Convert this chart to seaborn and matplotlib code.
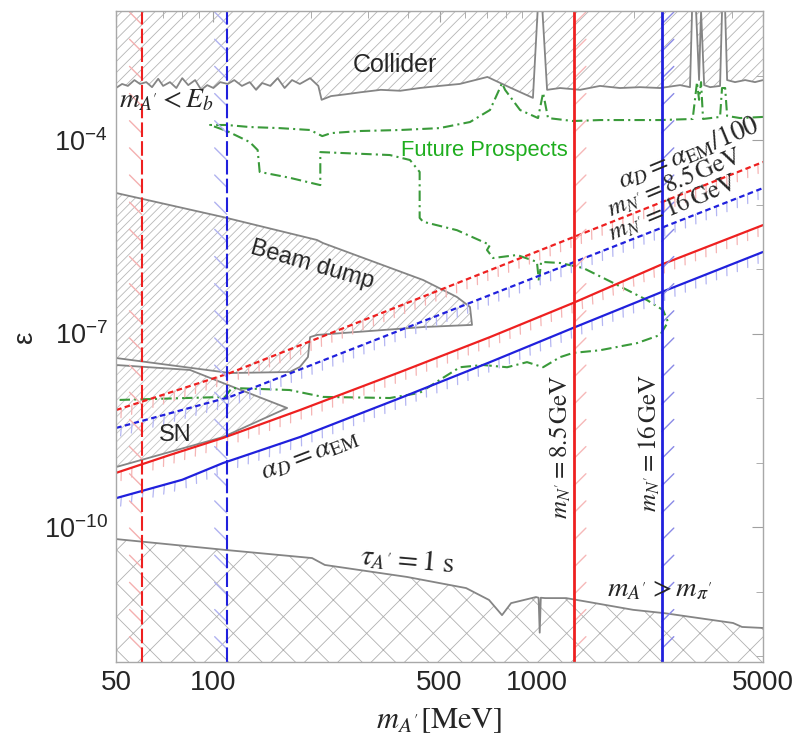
import matplotlib
matplotlib.use("Agg")
import matplotlib.pyplot as plt
import matplotlib.patheffects as pe
import seaborn as sns

# ---- data (masses in MeV, epsilon dimensionless) ----
collider_mass = [50, 52.2, 54.4, 57.0, 59.3, 62.0, 64.6, 67.5, 69.9, 73.4, 76.8, 80.1, 83.6,
                 87.8, 91.7, 95.7, 100, 104.9, 110.8, 116, 122.5, 129.5, 135.5, 141.5, 150,
                 158, 166, 175, 185, 199, 211, 216, 231, 255, 285, 329, 378, 434, 500, 577,
                 644, 703, 832, 972, 1005, 1040, 1075, 1179, 1359, 1567, 1806, 2084, 2403,
                 2770, 2973, 3017, 3104, 3171, 3216, 3288, 3431, 3682, 3734, 3818, 3872,
                 4096, 4402, 4721, 5000]
collider_eps = [6.4e-4, 7.4e-4, 6.9e-4, 8.5e-4, 7.4e-4, 7.9e-4, 6.6e-4, 8.9e-4, 6.9e-4, 7.9e-4,
                6.4e-4, 9.1e-4, 7.1e-4, 8.5e-4, 6.0e-4, 7.1e-4, 6.4e-4, 7.9e-4, 7.4e-4, 8.5e-4,
                6.9e-4, 7.9e-4, 6.0e-4, 7.65e-4, 6.9e-4, 9.1e-4, 6.4e-4, 8.5e-4, 7.4e-4, 9.1e-4,
                6.9e-4, 4.2e-4, 4.8e-4, 5.1e-4, 5.5e-4, 6.0e-4, 5.8e-4, 6.4e-4, 6.9e-4, 7.4e-4,
                8.5e-4, 9.5e-4, 6.4e-4, 4.5e-4, 1e-2, 1e-2, 6.0e-4, 6.4e-4, 6.0e-4, 6.9e-4,
                6.4e-4, 6.6e-4, 6.4e-4, 7.1e-4, 6.6e-4, 1e-2, 1e-2, 8.5e-4, 1e-2, 7.1e-4,
                6.6e-4, 6.9e-4, 1e-2, 1e-2, 8.5e-4, 7.9e-4, 8.5e-4, 7.9e-4, 8.5e-4]

future_mass = [5000, 4245, 3872, 3818, 3734, 3682, 3262, 3216, 3171, 3125, 3030, 2403, 1567,
               1293, 1082, 1045, 1008, 887, 797, 780, 764, 716, 621, 500, 378, 285, 231, 217,
               199, 160, 129.5, 110, 97.6,
               110, 129.5, 137, 139, 172, 214, 214, 351, 405, 434, 434, 445, 566, 716, 701,
               732, 868, 1000, 1015, 1030, 1179, 1388, 1720, 2189, 2454, 2542, 2403, 2039,
               1567, 1293, 1179, 1045, 932, 809, 681, 578, 500, 434, 351, 218, 172, 114,
               108.6, 50]
future_eps = [2.28e-4, 2.19e-4, 2.36e-4, 6.4e-4, 6.4e-4, 2.28e-4, 2.12e-4, 7.9e-4, 4.2e-4,
              7.9e-4, 2.12e-4, 2.04e-4, 2.04e-4, 1.97e-4, 2.19e-4, 5.4e-4, 2.19e-4, 2.92e-4,
              6.0e-4, 7.65e-4, 6.0e-4, 2.92e-4, 1.90e-4, 1.53e-4, 1.43e-4, 1.38e-4, 1.28e-4,
              1.15e-4, 1.43e-4, 1.53e-4, 1.59e-4, 1.71e-4, 1.71e-4,
              1.38e-4, 9.3e-5, 7.0e-5, 3.2e-5, 2.6e-5, 2.0e-5, 6.5e-5, 5.85e-5, 4.9e-5,
              3.2e-5, 6.2e-6, 5.4e-6, 4.0e-6, 2.36e-6, 1.97e-6, 1.48e-6, 1.65e-6, 1.29e-6,
              6.3e-7, 1.29e-6, 1.24e-6, 1.04e-6, 6.1e-7, 3.3e-7, 2.31e-7, 1.51e-7, 9.5e-8,
              7.1e-8, 5.5e-8, 5.0e-8, 4.3e-8, 3.0e-8, 3.6e-8, 3.0e-8, 3.25e-8, 3.0e-8,
              1.9e-8, 1.2e-8, 1.0e-8, 1.04e-8, 1.33e-8, 1.43e-8, 1.04e-8, 9.3e-9]

beamdump_mass = [50, 107, 209, 218, 445, 566, 621, 630, 445, 209, 199, 196, 185, 172, 112.5, 50]
beamdump_eps = [1.51e-5, 6.4e-6, 2.82e-6, 2.53e-6, 6.75e-7, 3.68e-7, 2.58e-7, 1.36e-7, 1.26e-7,
                9.5e-8, 8.8e-8, 4.32e-8, 3.03e-8, 2.53e-8, 2.44e-8, 4.17e-8]

sn_mass = [50, 84.7, 107, 169, 107, 50]
sn_eps = [3.25e-8, 2.72e-8, 1.71e-8, 7.0e-9, 2.48e-9, 8.5e-10]

tau_mass = [50, 109.4, 201.8, 221, 397, 604, 711, 780, 832, 993, 1012, 1020, 1028, 1060,
            1231, 1439, 1982, 2490, 4039, 4305, 5000]
tau_eps = [6.5e-11, 4.4e-11, 3.3e-11, 2.58e-11, 1.68e-11, 1.13e-11, 7.4e-12, 4.3e-12, 6.6e-12,
           8.2e-12, 8.0e-12, 2.3e-12, 8.0e-12, 7.9e-12, 7.9e-12, 6.9e-12, 5.2e-12, 4.6e-12,
           3.25e-12, 2.82e-12, 2.72e-12]

# alpha_D = alpha_EM lines (solid) and alpha_D = alpha_EM/100 lines (dotted)
red_solid_mass = [50, 73.4, 107, 185, 378, 716, 1293, 2403, 5000]
red_solid_eps = [6.9e-10, 1.31e-9, 2.4e-9, 6.5e-9, 2.53e-8, 8.8e-8, 2.97e-7, 1.15e-6, 4.8e-6]
blue_solid_mass = [50, 80.1, 107, 185, 378, 716, 1293, 2430, 5000]
blue_solid_eps = [2.8e-10, 5.4e-10, 9.8e-10, 2.48e-9, 1.0e-8, 3.6e-8, 1.22e-7, 4.4e-7, 1.84e-6]
red_dot_mass = [50, 112.5, 716, 5000]
red_dot_eps = [6.5e-9, 2.44e-8, 9.6e-7, 4.56e-5]
blue_dot_mass = [50, 112.5, 716, 5000]
blue_dot_eps = [3.43e-9, 1.04e-8, 3.95e-7, 1.8e-5]

beam_energy_cuts = [60, 110]        # m_A' < E_b (red, blue)
pion_mass_cuts = [1300, 2430]       # m_N' = 8.5 GeV, 16 GeV

x_major = [50, 100, 500, 1000, 5000]
x_minor = [60, 70, 80, 90, 200, 300, 400, 600, 700, 800, 900, 2000, 3000, 4000]
y_major = [1e-10, 1e-7, 1e-4]
y_minor = [1e-12, 1e-11, 1e-9, 1e-8, 1e-6, 1e-5, 1e-3, 1e-2]

RED = "#ee2020"
BLUE = "#2020dd"
GREEN = "#3a9a3a"
GRAY = "#858585"

sns.set_theme(style="white")
plt.rcParams["font.family"] = ["Liberation Sans", "DejaVu Sans"]
plt.rcParams["hatch.linewidth"] = 0.6

fig = plt.figure(figsize=(7.98, 7.4), dpi=100)
ax = fig.add_axes([0.1454, 0.1054, 0.8108, 0.8797])
ax.set_xscale("log")
ax.set_yscale("log")

# hatched regions
ax.fill_between(collider_mass, collider_eps, 1e-2, facecolor="none", edgecolor="#b4b4b4",
                hatch="///", linewidth=0)
ax.fill(beamdump_mass, beamdump_eps, facecolor="none", edgecolor="#b8b8b8", hatch="////",
        linewidth=0)
ax.fill(sn_mass, sn_eps, facecolor="none", edgecolor="#c4c4c4", hatch="////", linewidth=0)
ax.fill_between(tau_mass, 1e-13, tau_eps, facecolor="none", edgecolor="#b0b0b0", hatch="x",
                linewidth=0)

for m, e in [(collider_mass, collider_eps), (beamdump_mass, beamdump_eps),
             (sn_mass, sn_eps), (tau_mass, tau_eps)]:
    sns.lineplot(x=m, y=e, sort=False, estimator=None, color=GRAY, lw=1.3, ax=ax)

# future prospects
sns.lineplot(x=future_mass, y=future_eps, sort=False, estimator=None, color=GREEN, lw=1.5,
             linestyle=(0, (5, 2, 1, 2)), ax=ax)

# diagonal lines with exclusion ticks below
diag = [(red_dot_mass, red_dot_eps, RED, "#f5b4b4", (0, (2.5, 1.6))),
        (blue_dot_mass, blue_dot_eps, BLUE, "#b4b6f2", (0, (2.5, 1.6))),
        (red_solid_mass, red_solid_eps, RED, "#f5b4b4", "-"),
        (blue_solid_mass, blue_solid_eps, BLUE, "#b4b6f2", "-")]
for m, e, c, tc, ls in diag:
    ax.plot(m, e, color=tc, lw=0.9,
            path_effects=[pe.TickedStroke(angle=-110, spacing=8, length=0.85)])
    sns.lineplot(x=m, y=e, estimator=None, color=c, lw=1.6, linestyle=ls, ax=ax)

# vertical lines with exclusion ticks
for x, c, tc in zip(beam_energy_cuts, [RED, BLUE], ["#f4b0b0", "#b0b2f0"]):
    ax.axvline(x, color=tc, lw=1.0,
               path_effects=[pe.TickedStroke(angle=45, spacing=19, length=0.65)])
    ax.axvline(x, color=c, lw=1.5, linestyle=(0, (7, 2)))
for x, c, tc in zip(pion_mass_cuts, [RED, BLUE], ["#f6b8b8", "#8a8ae6"]):
    ax.axvline(x, color=tc, lw=1.0,
               path_effects=[pe.TickedStroke(angle=-45, spacing=19, length=0.65)])
    ax.axvline(x, color=c, lw=2.0)

ax.set_xlim(50, 5000)
ax.set_ylim(8.07e-13, 1e-2)

# ticks
ax.set_xticks(x_major)
ax.set_xticklabels([str(v) for v in x_major])
ax.set_xticks(x_minor, minor=True)
ax.set_xticklabels([], minor=True)
ax.set_yticks(y_major)
ax.set_yticklabels([r"$\mathdefault{10^{-10}}$", r"$\mathdefault{10^{-7}}$",
                    r"$\mathdefault{10^{-4}}$"])
ax.set_yticks(y_minor, minor=True)
ax.set_yticklabels([], minor=True)
ax.tick_params(which="both", direction="in", top=True, right=True, color="#a0a0a0", pad=6)
ax.tick_params(axis="x", labelsize=20)
ax.tick_params(axis="y", labelsize=19.5)
ax.tick_params(which="major", length=8, width=0.8)
ax.tick_params(which="minor", length=5, width=0.6)
for s in ax.spines.values():
    s.set_color("#a8a8a8")
    s.set_linewidth(1.0)

ax.set_xlabel(r"$m_{A'}[\mathrm{MeV}]$", fontsize=22, math_fontfamily="stix", labelpad=6)
ax.set_ylabel("ε", fontsize=20, labelpad=4)

# annotations
T = ax.transAxes
ax.text(0.431, 0.917, "Collider", transform=T, fontsize=18, ha="center", va="center")
ax.text(0.004, 0.863, r"$m_{A'} < E_b$", transform=T, fontsize=20, ha="left", va="center",
        math_fontfamily="stix")
ax.text(0.569, 0.786, "Future Prospects", transform=T, fontsize=15.8, color="#1fae1f",
        ha="center", va="center")
ax.text(0.303, 0.610, "Beam dump", transform=T, fontsize=17, rotation=-16, ha="center",
        va="center")
ax.text(0.091, 0.349, "SN", transform=T, fontsize=17, ha="center", va="center")
ax.text(0.300, 0.318, r"$\alpha_D = \alpha_{\rm EM}$", transform=T, fontsize=20, rotation=21,
        ha="center", va="center", math_fontfamily="stix")
ax.text(0.884, 0.782, r"$\alpha_D = \alpha_{\rm EM}/100$", transform=T, fontsize=19.5,
        rotation=22.5, ha="center", va="center", math_fontfamily="stix")
ax.text(0.864, 0.736, r"$m_{N'} = 8.5\,\mathrm{GeV}$", transform=T, fontsize=18, rotation=22.5,
        ha="center", va="center", math_fontfamily="stix")
ax.text(0.861, 0.697, r"$m_{N'} = 16\,\mathrm{GeV}$", transform=T, fontsize=18, rotation=22.5,
        ha="center", va="center", math_fontfamily="stix")
ax.text(0.450, 0.157, r"$\tau_{A'} = 1\ \mathrm{s}$", transform=T, fontsize=21, rotation=-5,
        ha="center", va="center", math_fontfamily="stix")
ax.text(0.841, 0.111, r"$m_{A'} > m_{\pi'}$", transform=T, fontsize=20.5, ha="center",
        va="center", math_fontfamily="stix")
ax.text(0.686, 0.330, r"$m_{N'} = 8.5\,\mathrm{GeV}$", transform=T, fontsize=18, rotation=90,
        ha="center", va="center", math_fontfamily="stix")
ax.text(0.825, 0.336, r"$m_{N'} = 16\,\mathrm{GeV}$", transform=T, fontsize=18, rotation=90,
        ha="center", va="center", math_fontfamily="stix")

fig.savefig("out.png", dpi=100)
